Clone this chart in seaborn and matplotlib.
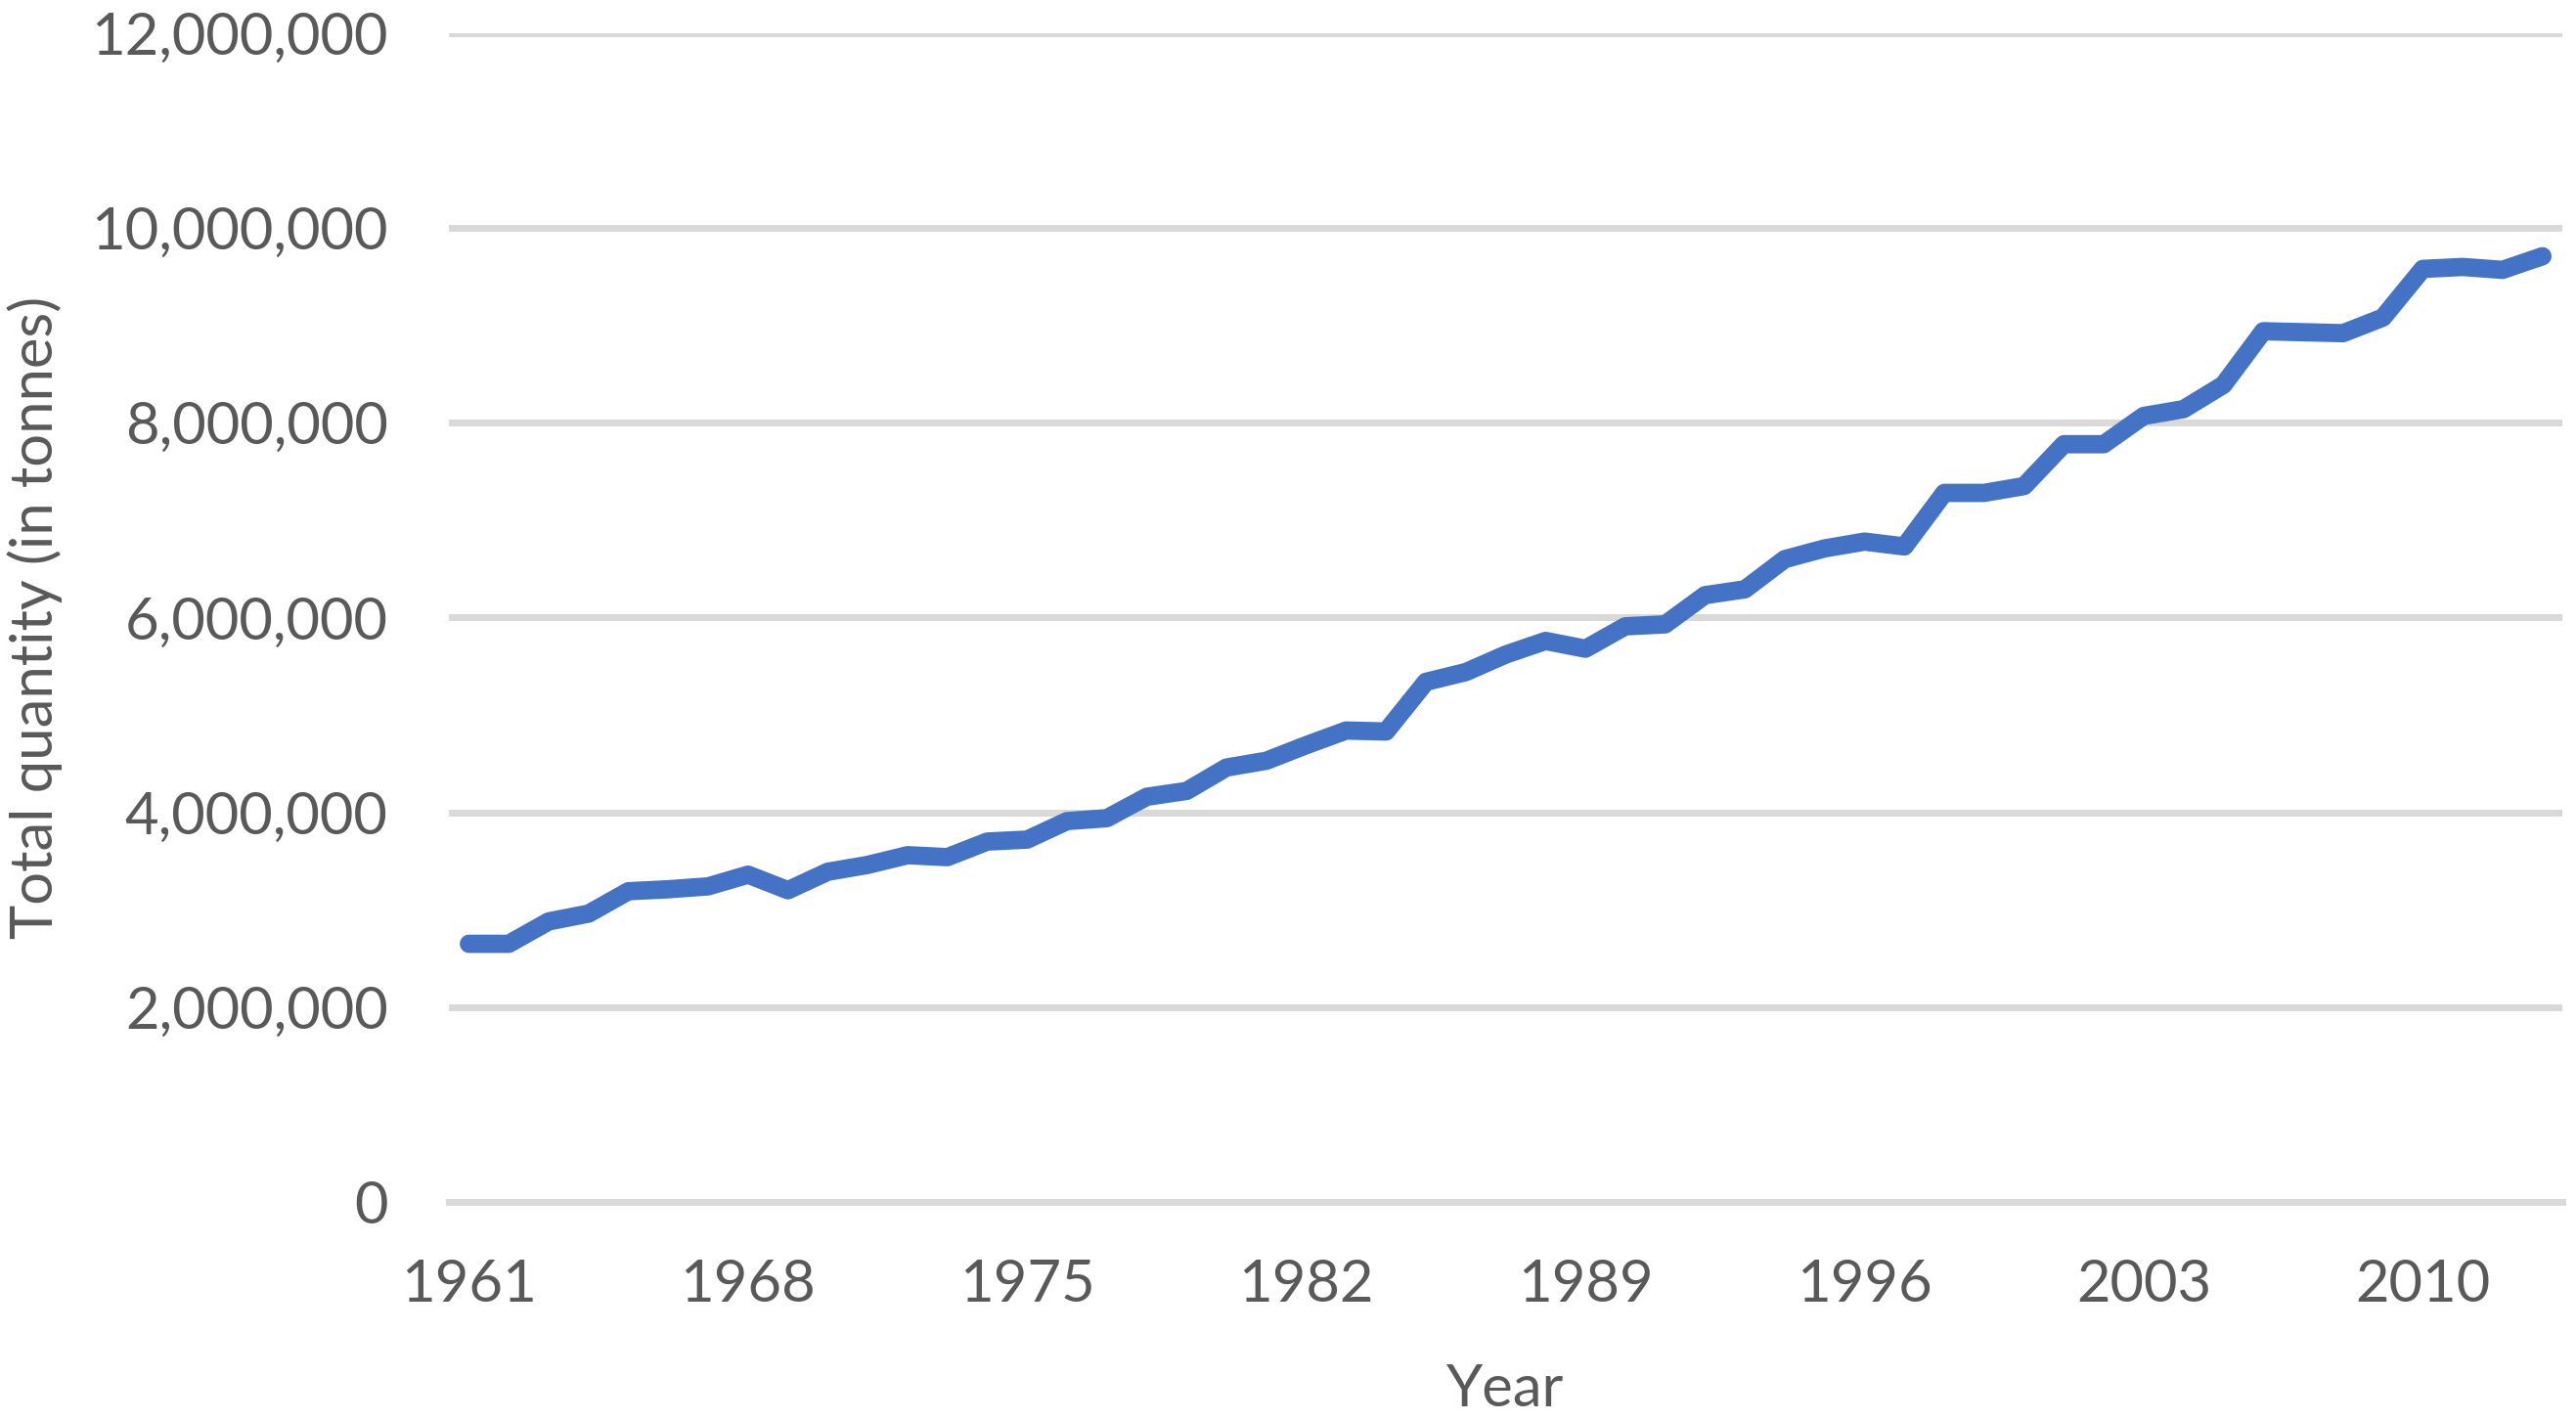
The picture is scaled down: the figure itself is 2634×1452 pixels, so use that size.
import numpy as np
import pandas as pd
import matplotlib
matplotlib.use("Agg")
import matplotlib.pyplot as plt
from matplotlib.ticker import FuncFormatter, FixedLocator
import seaborn as sns

# values (tonnes)
years = list(range(1961, 2014))
quantity = [
    2650000, 2650000, 2880000, 2960000, 3190000, 3210000, 3240000, 3360000,
    3200000, 3390000, 3460000, 3560000, 3540000, 3700000, 3720000, 3910000,
    3940000, 4160000, 4220000, 4460000, 4530000, 4690000, 4840000, 4830000,
    5340000, 5440000, 5620000, 5760000, 5680000, 5910000, 5930000, 6230000,
    6290000, 6600000, 6710000, 6780000, 6730000, 7280000, 7280000, 7350000,
    7780000, 7780000, 8070000, 8140000, 8390000, 8940000, 8930000, 8920000,
    9080000, 9580000, 9600000, 9570000, 9710000,
]
label_years = [1961, 1968, 1975, 1982, 1989, 1996, 2003, 2010]
y_ticks = [0, 2000000, 4000000, 6000000, 8000000, 10000000, 12000000]

df = pd.DataFrame({"Year": years, "Quantity": quantity})

sns.set_style("white")
plt.rcParams["font.family"] = ["Lato", "DejaVu Sans"]
text_col = "#595959"
grid_col = "#D9D9D9"

fig = plt.figure(figsize=(26.34, 14.52), dpi=100)
ax = fig.add_axes([0.1743, 0.1536, 0.8204, 0.823])

sns.lineplot(data=df, x="Year", y="Quantity", ax=ax, color="#4472C4",
             linewidth=13.5, solid_capstyle="round", solid_joinstyle="round",
             zorder=3)

ax.set_xlim(1960.5, 2013.5)
ax.set_ylim(0, 12000000)
ax.set_yticks(y_ticks)
ax.yaxis.set_major_formatter(FuncFormatter(lambda v, p: f"{int(v):,}"))
ax.set_xticks(label_years)
ax.set_xticklabels([str(y) for y in label_years])
ax.xaxis.set_minor_locator(FixedLocator([y - 0.5 for y in label_years]))

ax.grid(axis="y", color=grid_col, linewidth=5, zorder=0)
for s in ["top", "right", "left"]:
    ax.spines[s].set_visible(False)
ax.spines["bottom"].set_color(grid_col)
ax.spines["bottom"].set_linewidth(5)
ax.spines["bottom"].set_zorder(1)

ax.tick_params(axis="y", length=0, pad=45, labelsize=43, labelcolor=text_col)
ax.tick_params(axis="x", which="major", length=0, pad=42, labelsize=43,
               labelcolor=text_col)
ax.tick_params(axis="x", which="minor", length=16, width=5, color=grid_col,
               direction="out")

ax.set_xlabel("Year", fontsize=43, color=text_col, labelpad=38)
ax.set_ylabel("Total quantity (in tonnes)", fontsize=43, color=text_col,
              labelpad=21)

fig.savefig("out.png", dpi=100, facecolor="white")
